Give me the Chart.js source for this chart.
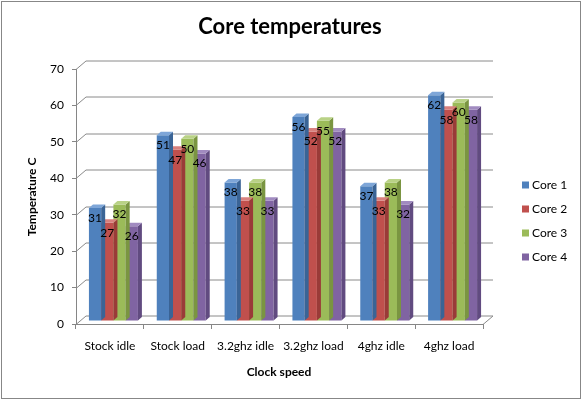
<!DOCTYPE html>
<html>
<head>
<meta charset="utf-8">
<style>
  html, body { margin: 0; padding: 0; background: #fff; }
  #wrap { width: 583px; height: 401px; }
</style>
<script src="https://cdn.jsdelivr.net/npm/chart.js@4/dist/chart.umd.min.js"></script>
</head>
<body>
<div id="wrap"><canvas id="c" width="583" height="401"></canvas></div>
<script>
// ---- data ----
const categories = ["Stock idle", "Stock load", "3.2ghz idle", "3.2ghz load", "4ghz idle", "4ghz load"];
const core1 = [31, 51, 38, 56, 37, 62];
const core2 = [27, 47, 33, 52, 33, 58];
const core3 = [32, 50, 38, 55, 38, 60];
const core4 = [26, 46, 33, 52, 32, 58];
const seriesNames = ["Core 1", "Core 2", "Core 3", "Core 4"];
const yTicks = [0, 10, 20, 30, 40, 50, 60, 70];

const FONT = "Lato, 'Open Sans', sans-serif";
const front = ["#4F81BD", "#C0504D", "#9BBB59", "#8064A2"];
const tops  = ["#7EA6D8", "#D8817E", "#B9D286", "#A18BC0"];
const sides = ["#3A6496", "#9A3B38", "#7A9541", "#614B80"];

const WALL_DX = 10, WALL_DY = 8.5;   // back wall offset
const BAR_SHIFT_X = 3.5, BAR_SHIFT_Y = -3; // bars sit a bit inside the box
const BAR_DX = 4, BAR_DY = 3.5;      // bar depth

const threeD = {
  id: 'threeD',
  beforeDraw(chart) {
    const ctx = chart.ctx;
    ctx.save();
    ctx.fillStyle = '#fff';
    ctx.fillRect(0, 0, chart.width, chart.height);
    ctx.strokeStyle = '#878787';
    ctx.lineWidth = 1;
    ctx.strokeRect(1.5, 1.5, 579, 397);
    ctx.restore();
  },
  beforeDatasetsDraw(chart) {
    const ctx = chart.ctx;
    const y = chart.scales.y;
    const L = chart.chartArea.left, R = chart.chartArea.right, B = chart.chartArea.bottom;
    ctx.save();
    ctx.strokeStyle = '#8A8A8A';
    ctx.lineWidth = 1;
    yTicks.forEach(v => {
      const py = Math.round(y.getPixelForValue(v)) + 0.5;
      ctx.beginPath();
      ctx.moveTo(L, py);
      ctx.lineTo(L + WALL_DX, py - WALL_DY);
      ctx.lineTo(R + WALL_DX, py - WALL_DY);
      ctx.stroke();
    });
    ctx.beginPath();
    ctx.moveTo(R, B + 0.5);
    ctx.lineTo(R + WALL_DX, B + 0.5 - WALL_DY);
    ctx.stroke();
    ctx.restore();
    // shift the bars into the box
    ctx.save();
    ctx.translate(BAR_SHIFT_X, BAR_SHIFT_Y);
  },
  afterDatasetDraw(chart, args) {
    const ctx = chart.ctx;
    const i = args.index;
    const meta = chart.getDatasetMeta(i);
    meta.data.forEach(bar => {
      const p = bar.getProps(['x', 'y', 'base', 'width'], true);
      const l = p.x - p.width / 2, r = p.x + p.width / 2;
      ctx.fillStyle = sides[i];
      ctx.beginPath();
      ctx.moveTo(r, p.y);
      ctx.lineTo(r + BAR_DX, p.y - BAR_DY);
      ctx.lineTo(r + BAR_DX, p.base - BAR_DY);
      ctx.lineTo(r, p.base);
      ctx.closePath();
      ctx.fill();
      ctx.fillStyle = tops[i];
      ctx.beginPath();
      ctx.moveTo(l, p.y);
      ctx.lineTo(l + BAR_DX, p.y - BAR_DY);
      ctx.lineTo(r + BAR_DX, p.y - BAR_DY);
      ctx.lineTo(r, p.y);
      ctx.closePath();
      ctx.fill();
    });
  },
  afterDatasetsDraw(chart) {
    const ctx = chart.ctx;
    ctx.font = "12px " + FONT;
    ctx.fillStyle = '#000';
    ctx.textAlign = 'center';
    ctx.textBaseline = 'middle';
    chart.data.datasets.forEach((ds, i) => {
      chart.getDatasetMeta(i).data.forEach((bar, j) => {
        const p = bar.getProps(['x', 'y'], true);
        ctx.fillText(String(ds.data[j]), p.x, p.y + 10);
      });
    });
    ctx.restore(); // undo translate

    // titles and legend
    ctx.save();
    ctx.fillStyle = '#000';
    ctx.textAlign = 'center';
    ctx.textBaseline = 'alphabetic';
    ctx.font = "bold 22px " + FONT;
    ctx.fillText("Core temperatures", 290, 34);
    ctx.textBaseline = 'middle';
    ctx.font = "bold 12px " + FONT;
    ctx.fillText("Clock speed", 279, 372);
    ctx.save();
    ctx.translate(32, 197);
    ctx.rotate(-Math.PI / 2);
    ctx.fillText("Temperature C", 0, 0);
    ctx.restore();
    ctx.font = "12px " + FONT;
    ctx.textAlign = 'left';
    chart.data.datasets.forEach((ds, i) => {
      const yc = 185 + i * 24;
      ctx.fillStyle = ds.backgroundColor;
      ctx.fillRect(522, yc - 3.5, 7, 7);
      ctx.fillStyle = '#000';
      ctx.fillText(ds.label, 532, yc + 0.5);
    });
    ctx.restore();
  }
};

const seriesData = [core1, core2, core3, core4];
new Chart(document.getElementById('c'), {
  type: 'bar',
  data: {
    labels: categories,
    datasets: seriesData.map((d, i) => ({
      label: seriesNames[i],
      data: d,
      backgroundColor: front[i],
      borderWidth: 0,
      categoryPercentage: 0.722,
      barPercentage: 1.0
    }))
  },
  options: {
    responsive: false,
    animation: false,
    devicePixelRatio: 1,
    layout: { padding: { left: 0, top: 69, right: 100, bottom: 0 } },
    plugins: { legend: { display: false }, title: { display: false }, tooltip: { enabled: false } },
    scales: {
      x: {
        afterFit(s) { s.height = 77; },
        grid: { display: true, offset: true, drawOnChartArea: false, drawTicks: true, tickLength: 5, tickColor: '#868686' },
        border: { display: true, color: '#868686' },
        ticks: { color: '#000', font: { family: FONT, size: 12 }, padding: 10, maxRotation: 0, autoSkip: false }
      },
      y: {
        min: 0, max: 70,
        afterFit(s) { s.width = 76; },
        afterBuildTicks(s) { s.ticks = yTicks.map(v => ({ value: v })); },
        grid: { display: true, drawOnChartArea: false, drawTicks: true, tickLength: 4, tickColor: '#868686' },
        border: { display: true, color: '#868686' },
        ticks: { color: '#000', font: { family: FONT, size: 12 }, padding: 8 }
      }
    }
  },
  plugins: [threeD]
});
</script>
</body>
</html>
